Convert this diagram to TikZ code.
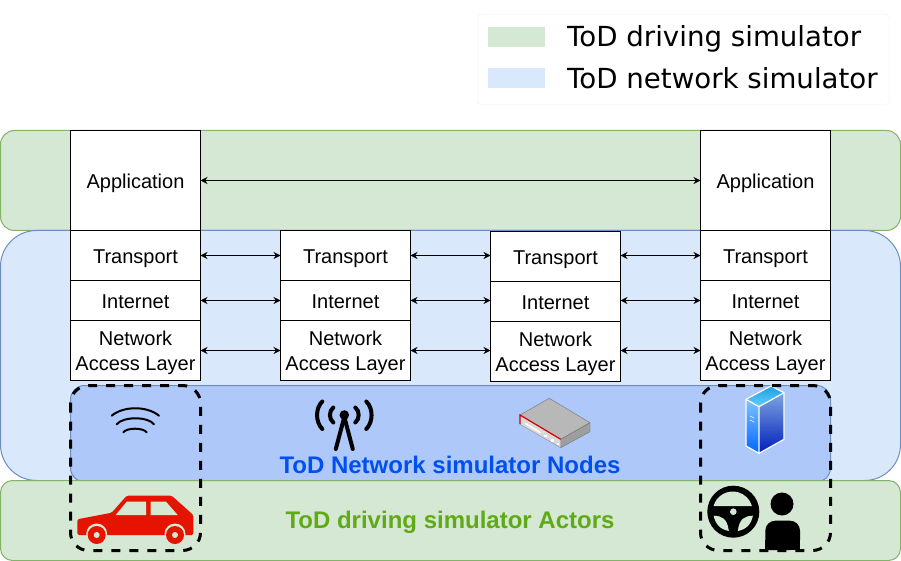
\documentclass[tikz,border=0pt]{standalone}
\usepackage{fontspec}
\setmainfont{Liberation Sans}
\newfontfamily\legendfont{DejaVu Sans}
\usetikzlibrary{arrows.meta,positioning}

\definecolor{drivefill}{HTML}{D5E8D4}
\definecolor{driveline}{HTML}{82B366}
\definecolor{netfill}{HTML}{DAE8FC}
\definecolor{netline}{HTML}{6C8EBF}
\definecolor{nodefill}{HTML}{AEC8FA}
\definecolor{carred}{HTML}{E51400}
\definecolor{nodeblue}{HTML}{0050EF}
\definecolor{actorgreen}{HTML}{60A917}
\definecolor{srvtopa}{HTML}{66CCFF}
\definecolor{srvtopb}{HTML}{1BA1E2}
\definecolor{srvlefta}{HTML}{80C4FF}
\definecolor{srvleftb}{HTML}{0066FF}
\definecolor{srvrighta}{HTML}{7EA6E0}
\definecolor{srvrightb}{HTML}{001DBC}
\newcommand{\accesstext}{\rule{0pt}{20pt}Network\\Access Layer}

\begin{document}
\begin{tikzpicture}[
	x=1pt,y=-1pt,
	font=\fontsize{20}{25}\selectfont,
	layer/.style={draw=black,fill=white,line width=1pt,minimum width=130pt,inner sep=0pt,outer sep=0pt,align=center},
	single/.style={text height=16pt,text depth=0pt},
	drive/.style={draw=driveline,fill=drivefill,line width=1pt},
	net/.style={draw=netline,fill=netfill,line width=1pt},
	link/.style={{Stealth[length=7pt,width=7pt]}-{Stealth[length=7pt,width=7pt]},line width=1pt},
	actor/.style={draw=black,line width=3pt,dash pattern=on 9pt off 9pt,rounded corners=18pt},
	legendtext/.style={font=\legendfont\fontsize{27.65}{32}\selectfont,anchor=base west,inner sep=0pt},
	banner/.style={font=\bfseries\fontsize{24}{28}\selectfont,inner sep=0pt,text depth=0pt},
	wave/.style={draw=black,line width=2pt,line cap=round},
	mast/.style={draw=black,line width=4pt,line cap=round}
	]
	\useasboundingbox (0,0) rectangle (901,561);
	
	%
	% Bands
	%
	\draw[drive,rounded corners=14pt] (0.5,130.5) rectangle (900.5,230.5);
	\draw[net,rounded corners=36pt] (0.5,230.5) rectangle (900.5,480.5);
	\draw[draw=netline,fill=nodefill,line width=1pt,rounded corners=14pt] (70.5,385.5) rectangle (830.5,482);
	\draw[drive,rounded corners=12pt] (0.5,480.5) rectangle (900.5,560.5);
	
	%
	% Legend
	%
	\draw[draw=black!6,fill=white,rounded corners=4pt] (477.5,14.5) rectangle (889.5,104.5);
	\fill[drivefill] (488,27) rectangle (545,47);
	\fill[netfill] (488,68) rectangle (545,88);
	\node[legendtext] (legendDrive) at (567,47) {ToD driving simulator};
	\node[legendtext] (legendNet) at (567,88.5) {ToD network simulator};
	
	%
	% Protocol stacks
	%
	\node[layer,single,minimum height=100pt] (appA) at (135.5,180.5) {Application};
	\node[layer,single,minimum height=50pt,below=0pt of appA] (transA) {Transport};
	\node[layer,single,minimum height=40pt,below=0pt of transA] (interA) {Internet};
	\node[layer,minimum height=60pt,below=0pt of interA] (accessA) {\accesstext};
	
	\node[layer,single,minimum height=50pt] (transB) at (345.5,255.5) {Transport};
	\node[layer,single,minimum height=40pt,below=0pt of transB] (interB) {Internet};
	\node[layer,minimum height=60pt,below=0pt of interB] (accessB) {\accesstext};
	
	\node[layer,single,minimum height=50pt] (transC) at (555.5,256.5) {Transport};
	\node[layer,single,minimum height=40pt,below=0pt of transC] (interC) {Internet};
	\node[layer,minimum height=60pt,below=0pt of interC] (accessC) {\accesstext};
	
	\node[layer,single,minimum height=100pt] (appD) at (765.5,180.5) {Application};
	\node[layer,single,minimum height=50pt,below=0pt of appD] (transD) {Transport};
	\node[layer,single,minimum height=40pt,below=0pt of transD] (interD) {Internet};
	\node[layer,minimum height=60pt,below=0pt of interD] (accessD) {\accesstext};
	
	% links between neighbours
	\draw[link] (appA.east) -- (appD.west);
	\foreach \layer in {trans,inter,access}{
		\draw[link] (\layer A.east) -- (\layer B.west);
		\draw[link] (\layer B.east) -- (\layer C.west |- \layer B.east);
		\draw[link] (\layer C.east |- \layer D.west) -- (\layer D.west);
	}
	
	%
	% Banners
	%
	\node[banner,text=nodeblue] (nodesLabel) at (450,465) {ToD Network simulator Nodes};
	\node[banner,text=actorgreen] (actorsLabel) at (450,520) {ToD driving simulator Actors};
	
	%
	% Wifi
	%
	\draw[wave] (111.7,415.7) .. controls (123.5,405.8) and (147,405.8) .. (159,415.7);
	\draw[wave] (116.7,424.3) .. controls (123,416.3) and (148,416.3) .. (154,424.3);
	\draw[wave] (123.3,432.3) .. controls (127,427.5) and (143,427.5) .. (146.7,432.3);
	
	%
	% Car
	%
	\fill[carred,rounded corners=1.5pt] (77.3,519.3) -- (111.7,512.7) -- (126.7,495.7) -- (171.7,495.7) -- (193.3,515) -- (193.3,535) -- (77.3,535) -- cycle;
	\fill[drivefill] (115.7,515) -- (126.7,501.7) -- (146,501.7) -- (146,515) -- cycle;
	\fill[drivefill] (150.7,501.7) -- (166,501.7) -- (177.7,515) -- (150.7,515) -- cycle;
	\foreach \x in {96.7,175}{
		\fill[drivefill] (\x,534) circle (10.5pt);
		\fill[carred] (\x,535) circle (9pt);
		\fill[drivefill] (\x,535) circle (3pt);
	}
	
	%
	% Antenna
	%
	\fill (344.3,415) circle (4.8pt);
	\foreach \s in {-1,1}{
		\draw[mast] (344.3,417) -- ({344.3+\s*8.5},449);
		\draw[mast] ({344.3+\s*22},401.5) .. controls ({344.3+\s*29},408) and ({344.3+\s*29},422) .. ({344.3+\s*22},429);
		\draw[mast] ({344.3+\s*11},407.5) .. controls ({344.3+\s*15.5},411) and ({344.3+\s*15.5},419) .. ({344.3+\s*11},422.5);
	}
	
	%
	% Router
	%
	\fill[black!28,draw=black!55,line join=round] (520,415) -- (549.3,398.3) -- (590,422.7) -- (560.7,439.3) -- cycle;
	\fill[black!38,draw=black!55,line join=round] (590,422.7) -- (590,431.7) -- (560.7,447.7) -- (560.7,439.3) -- cycle;
	\fill[black!15,draw=black!45,line join=round] (520,415) -- (560.7,439.3) -- (560.7,447.7) -- (520,424.3) -- cycle;
	\draw[red!85!black,line width=1.2pt] (520,424) -- (520,415) -- (560.7,439.3);
	\draw[white,line width=1.5pt] (525,423.3) -- (540.7,432.7);
	\foreach \x/\y in {544/434.5,551/439,556.5/442.5}{
		\fill[white] (\x,\y) rectangle ++(2.5,2.5);
	}
	
	%
	% Server
	%
	\shade[top color=srvtopb,bottom color=srvtopa] (746,399.3) -- (771,386) -- (784,392.7) -- (759,406.7) -- cycle;
	\shade[top color=srvlefta,bottom color=srvleftb] (746,399.3) -- (759,406.7) -- (759,453.3) -- (746,446) -- cycle;
	\shade[top color=srvrighta,bottom color=srvrightb] (759,406.7) -- (784,392.7) -- (784,439.3) -- (759,453.3) -- cycle;
	\draw[white,line width=1.2pt,line join=round] (746,399.3) -- (771,386) -- (784,392.7) -- (784,439.3) -- (759,453.3) -- (746,446) -- cycle;
	\draw[white,line width=1.2pt,line join=round] (746,399.3) -- (759,406.7) -- (784,392.7) (759,406.7) -- (759,453.3);
	\draw[white,line width=0.6pt] (750,416) -- (754,418) (750,420) -- (754,422);
	
	%
	% Steering wheel
	%
	\fill (733.3,511.7) circle (26pt);
	\fill[drivefill] (713.5,506) arc[start angle=196,end angle=344,x radius=20pt,y radius=-20pt] -- cycle;
	\foreach \s in {-1,1}{
		\fill[drivefill] ({733.3+\s*19.6},515.7) .. controls ({733.3+\s*12},516) and ({733.3+\s*6},518) .. ({733.3+\s*4.5},531) .. controls ({733.3+\s*13},529.5) and ({733.3+\s*18},524) .. ({733.3+\s*19.6},515.7) -- cycle;
	}
	\fill[drivefill] (733.3,511.7) circle (3.3pt);
	
	%
	% Driver
	%
	\fill (782,504) circle (11.5pt);
	\fill[rounded corners=10pt] (765.3,550) -- (765.3,520.7) -- (800,520.7) -- (800,550) [sharp corners] -- cycle;
	\fill (765.3,540) rectangle (800,550);
	
	%
	% Actor boxes
	%
	\draw[actor] (70.5,385.5) rectangle (200.5,550.5);
	\draw[actor] (700.5,385.5) rectangle (830.5,550.5);
\end{tikzpicture}
\end{document}
